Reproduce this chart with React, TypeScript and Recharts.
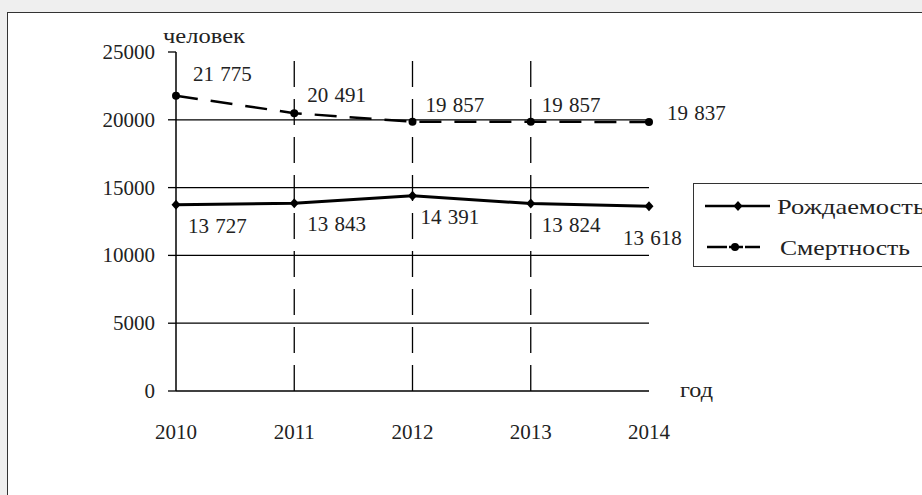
import React from 'react';
import { LineChart, Line, XAxis, YAxis, ReferenceLine, LabelList, Legend, Label } from 'recharts';

const years = ['2010', '2011', '2012', '2013', '2014'];
const births = [13727, 13843, 14391, 13824, 13618];
const deaths = [21775, 20491, 19857, 19857, 19837];
const yTicks = [0, 5000, 10000, 15000, 20000, 25000];
const gridValues = [5000, 10000, 15000, 20000];
const dashedYears = ['2011', '2012', '2013'];
const seriesNames = ['Рождаемость', 'Смертность'];
const yAxisTitle = 'человек';
const xAxisTitle = 'год';

// layout: label offsets (dx, dy baseline) relative to each point
const birthLabelOffsets = [[12, 28], [13, 28], [8, 28], [11, 28], [-26, 39]];
const deathLabelOffsets = [[17, -15], [13, -11], [13, -10], [11, -10], [18, -2]];

const data = years.map((y, i) => ({ year: y, births: births[i], deaths: deaths[i] }));

const FONT = '"Liberation Serif", "Times New Roman", serif';
const TXT = '#222';

const fmt = (v: number) => `${Math.floor(v / 1000)} ${String(v % 1000).padStart(3, '0')}`;

const makeLabel = (offsets: number[][]) => (props: any) => {
  const { x, y, value, index } = props;
  const o = offsets[index] || [0, 0];
  return (
    <text x={x + o[0]} y={y + o[1]} style={{ fontFamily: FONT }} fontSize={21} fill={TXT} wordSpacing={1}>
      {fmt(Number(value))}
    </text>
  );
};

const Diamond = (props: any) => {
  const { cx, cy, index } = props;
  if (cx == null || cy == null) return <g key={index} />;
  return (
    <path
      key={index}
      d={`M${cx},${cy - 5} L${cx + 4.5},${cy} L${cx},${cy + 5} L${cx - 4.5},${cy} Z`}
      fill="#000"
    />
  );
};

const Circle = (props: any) => {
  const { cx, cy, index } = props;
  if (cx == null || cy == null) return <g key={index} />;
  return <circle key={index} cx={cx} cy={cy} r={4} fill="#000" />;
};

const YTick = (props: any) => {
  const { x, y, payload } = props;
  return (
    <text x={x} y={y} dy={7} textAnchor="end" style={{ fontFamily: FONT }} fontSize={21} fill={TXT}>
      {payload.value}
    </text>
  );
};

const XTick = (props: any) => {
  const { x, y, payload } = props;
  return (
    <text x={x} y={y} dy={15} textAnchor="middle" style={{ fontFamily: FONT }} fontSize={21} fill={TXT}>
      {payload.value}
    </text>
  );
};

const YTitle = (props: any) => {
  const vb = props.viewBox || {};
  return (
    <text x={vb.x + vb.width - 13} y={vb.y - 9} style={{ fontFamily: FONT }} fontSize={21} fill={TXT}
      textLength={82} lengthAdjust="spacingAndGlyphs">
      {yAxisTitle}
    </text>
  );
};

const XTitle = (props: any) => {
  const vb = props.viewBox || {};
  return (
    <text x={vb.x + vb.width + 31} y={vb.y + 6} style={{ fontFamily: FONT }} fontSize={21} fill={TXT}
      textLength={33} lengthAdjust="spacingAndGlyphs">
      {xAxisTitle}
    </text>
  );
};

const LegendBox = () => (
  <div style={{ width: 240, height: 84, border: '1.5px solid #333', background: '#fff', boxSizing: 'border-box', position: 'relative' }}>
    <svg width={240} height={84} style={{ position: 'absolute', left: -1.5, top: -1.5 }}>
      <line x1={12} y1={23} x2={77} y2={23} stroke="#000" strokeWidth={2.5} />
      <path d="M45,18 L49.5,23 L45,28 L40.5,23 Z" fill="#000" />
      <text x={84} y={31} style={{ fontFamily: FONT }} fontSize={21} fill={TXT} textLength={148} lengthAdjust="spacingAndGlyphs">
        {seriesNames[0]}
      </text>
      <line x1={14} y1={64} x2={34} y2={64} stroke="#000" strokeWidth={2.5} />
      <line x1={36} y1={64} x2={50} y2={64} stroke="#000" strokeWidth={2.5} />
      <line x1={52} y1={64} x2={67} y2={64} stroke="#000" strokeWidth={2.5} />
      <circle cx={42} cy={64} r={4} fill="#000" />
      <text x={87} y={72} style={{ fontFamily: FONT }} fontSize={21} fill={TXT} textLength={130} lengthAdjust="spacingAndGlyphs">
        {seriesNames[1]}
      </text>
    </svg>
  </div>
);

export default function App() {
  return (
    <div style={{ position: 'fixed', left: 0, top: 0, width: 922, height: 495, background: '#efefef', overflow: 'hidden' }}>
      <div style={{ position: 'absolute', left: 7, top: 12, width: 960, height: 520, border: '1.5px solid #333', background: '#fff' }} />
      <div style={{ position: 'absolute', left: 0, top: 0 }}>
        <LineChart width={922} height={495} data={data} margin={{ top: 52, right: 273, bottom: 44, left: 0 }}>
          <XAxis dataKey="year" height={60} tickLine={false} tickSize={0} tickMargin={33}
            axisLine={{ stroke: '#000', strokeWidth: 1.5 }} tick={<XTick />} interval={0}>
            <Label content={<XTitle />} />
          </XAxis>
          <YAxis width={176} domain={[0, 25000]} ticks={yTicks} interval={0} tickSize={8} tickMargin={13}
            axisLine={{ stroke: '#000', strokeWidth: 1.5 }} tickLine={{ stroke: '#000', strokeWidth: 1.3 }} tick={<YTick />}>
            <Label content={<YTitle />} />
          </YAxis>
          {gridValues.map((v) => (
            <ReferenceLine key={`h${v}`} y={v} stroke="#000" strokeWidth={1.3} />
          ))}
          {dashedYears.map((yr) => (
            <ReferenceLine key={`v${yr}`} x={yr} stroke="#000" strokeWidth={1.3} strokeDasharray="26 12" />
          ))}
          <Line dataKey="births" name={seriesNames[0]} stroke="#000" strokeWidth={3} dot={<Diamond />}
            activeDot={false} isAnimationActive={false}>
            <LabelList dataKey="births" content={makeLabel(birthLabelOffsets)} />
          </Line>
          <Line dataKey="deaths" name={seriesNames[1]} stroke="#000" strokeWidth={2.5} strokeDasharray="22 13"
            dot={<Circle />} activeDot={false} isAnimationActive={false}>
            <LabelList dataKey="deaths" content={makeLabel(deathLabelOffsets)} />
          </Line>
          <Legend layout="vertical" align="center" verticalAlign="middle" content={<LegendBox />}
            wrapperStyle={{ left: 693, top: 183, width: 240, height: 84 }} />
        </LineChart>
      </div>
    </div>
  );
}
